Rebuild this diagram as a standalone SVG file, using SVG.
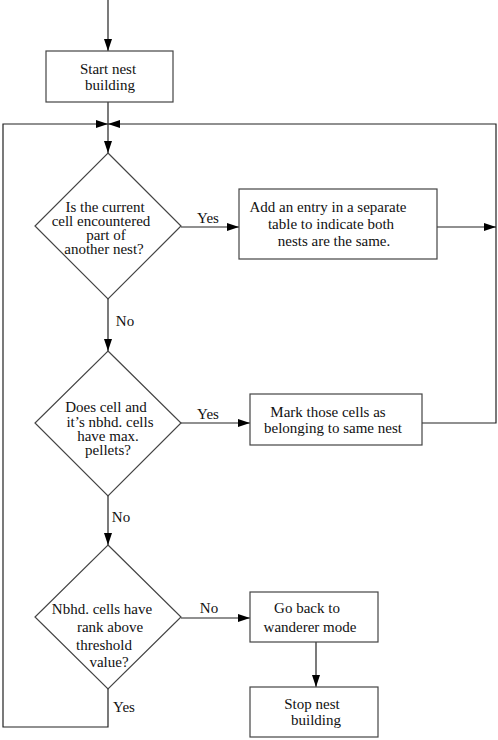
<svg xmlns="http://www.w3.org/2000/svg" width="498" height="740" viewBox="0 0 498 740">
<defs>
<marker id="ah" markerUnits="userSpaceOnUse" markerWidth="14" markerHeight="10" refX="13" refY="5" orient="auto">
<path d="M1,1 L13,5 L1,9 Z" fill="#000"/>
</marker>
</defs>
<rect width="498" height="740" fill="#fff"/>
<g id="connectors" fill="none" stroke="#222" stroke-width="1.2">
<path d="M108,0 V51" marker-end="url(#ah)"/>
<path d="M108,102 V153" marker-end="url(#ah)"/>
<path d="M108,689 V727 H3 V124 H108" marker-end="url(#ah)"/>
<path d="M422,423 H496 V124 H108" marker-end="url(#ah)"/>
<path d="M181,227 H239" marker-end="url(#ah)"/>
<path d="M437,227 H496" marker-end="url(#ah)"/>
<path d="M108,299 V351" marker-end="url(#ah)"/>
<path d="M181,423 H250" marker-end="url(#ah)"/>
<path d="M108,496 V545" marker-end="url(#ah)"/>
<path d="M181,618 H250" marker-end="url(#ah)"/>
<path d="M316,642 V687" marker-end="url(#ah)"/>
</g>
<g id="labels" fill="#111" stroke="none" text-anchor="middle" font-size="15">
<text x="208" y="223" style="font-family:'Liberation Serif',serif">Yes</text>
<text x="125" y="326" style="font-family:'Liberation Serif',serif">No</text>
<text x="208" y="419" style="font-family:'Liberation Serif',serif">Yes</text>
<text x="121" y="522" style="font-family:'Liberation Serif',serif">No</text>
<text x="209" y="613" style="font-family:'Liberation Serif',serif">No</text>
<text x="124" y="712" style="font-family:'Liberation Serif',serif">Yes</text>
</g>
<g id="start" text-anchor="middle" font-size="15">
<rect x="46" y="51" width="127" height="51" fill="#fff" stroke="#444" stroke-width="1.2"/>
<text x="108" y="74" fill="#111" style="font-family:'Liberation Serif',serif">Start nest</text>
<text x="110" y="90" fill="#111" style="font-family:'Liberation Serif',serif">building</text>
</g>
<g id="d1" text-anchor="middle" font-size="15">
<path d="M108,153 L181,226 L108,299 L35,226 Z" fill="#fff" stroke="#444" stroke-width="1.2"/>
<text x="105" y="212" fill="#111" style="font-family:'Liberation Serif',serif">Is the current</text>
<text x="101" y="226" fill="#111" style="font-family:'Liberation Serif',serif">cell encountered</text>
<text x="106" y="240" fill="#111" style="font-family:'Liberation Serif',serif">part of</text>
<text x="104" y="254" fill="#111" style="font-family:'Liberation Serif',serif">another nest?</text>
</g>
<g id="addentry" text-anchor="middle" font-size="15">
<rect x="239" y="189" width="198" height="70" fill="#fff" stroke="#444" stroke-width="1.2"/>
<text x="328" y="212" fill="#111" style="font-family:'Liberation Serif',serif">Add an entry in a separate</text>
<text x="331" y="229" fill="#111" style="font-family:'Liberation Serif',serif">table to indicate both</text>
<text x="334" y="246" fill="#111" style="font-family:'Liberation Serif',serif">nests are the same.</text>
</g>
<g id="d2" text-anchor="middle" font-size="15">
<path d="M108,351 L181,423 L108,496 L35,423 Z" fill="#fff" stroke="#444" stroke-width="1.2"/>
<text x="106" y="412" fill="#111" style="font-family:'Liberation Serif',serif">Does cell and</text>
<text x="110" y="427" fill="#111" style="font-family:'Liberation Serif',serif">it’s nbhd. cells</text>
<text x="108" y="441" fill="#111" style="font-family:'Liberation Serif',serif">have max.</text>
<text x="108" y="455" fill="#111" style="font-family:'Liberation Serif',serif">pellets?</text>
</g>
<g id="mark" text-anchor="middle" font-size="15">
<rect x="250" y="394" width="172" height="51" fill="#fff" stroke="#444" stroke-width="1.2"/>
<text x="328" y="417" fill="#111" style="font-family:'Liberation Serif',serif">Mark those cells as</text>
<text x="333" y="433" fill="#111" style="font-family:'Liberation Serif',serif">belonging to same nest</text>
</g>
<g id="d3" text-anchor="middle" font-size="15">
<path d="M108,545 L181,617 L108,689 L35,617 Z" fill="#fff" stroke="#444" stroke-width="1.2"/>
<text x="102" y="614" fill="#111" style="font-family:'Liberation Serif',serif">Nbhd. cells have</text>
<text x="110" y="632" fill="#111" style="font-family:'Liberation Serif',serif">rank above</text>
<text x="104" y="650" fill="#111" style="font-family:'Liberation Serif',serif">threshold</text>
<text x="109" y="667" fill="#111" style="font-family:'Liberation Serif',serif">value?</text>
</g>
<g id="wander" text-anchor="middle" font-size="15">
<rect x="250" y="592" width="128" height="50" fill="#fff" stroke="#444" stroke-width="1.2"/>
<text x="307" y="613" fill="#111" style="font-family:'Liberation Serif',serif">Go back to</text>
<text x="310" y="632" fill="#111" style="font-family:'Liberation Serif',serif">wanderer mode</text>
</g>
<g id="stop" text-anchor="middle" font-size="15">
<rect x="250" y="687" width="128" height="50" fill="#fff" stroke="#444" stroke-width="1.2"/>
<text x="312" y="709" fill="#111" style="font-family:'Liberation Serif',serif">Stop nest</text>
<text x="316" y="725" fill="#111" style="font-family:'Liberation Serif',serif">building</text>
</g>
</svg>
